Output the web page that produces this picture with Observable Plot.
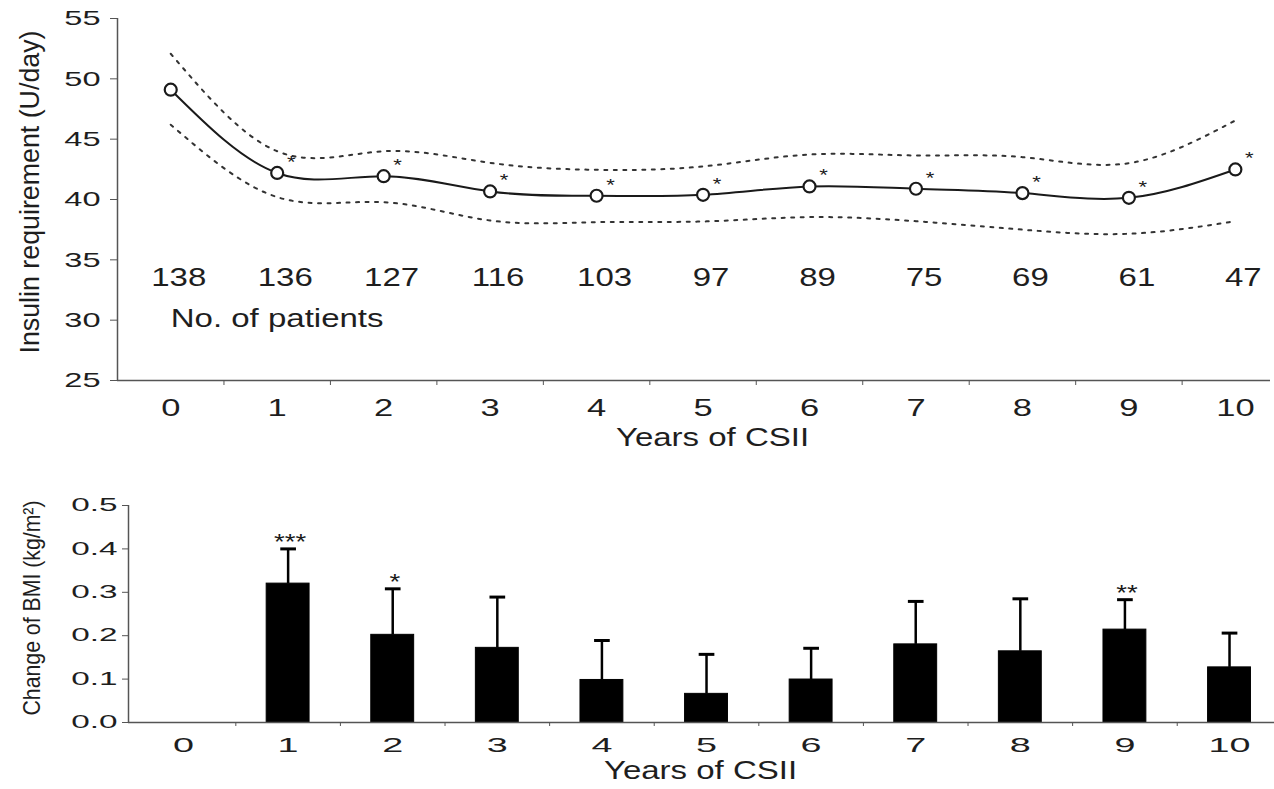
<!DOCTYPE html>
<html><head><meta charset="utf-8">
<script src="https://cdn.jsdelivr.net/npm/d3@7"></script>
<script src="https://cdn.jsdelivr.net/npm/@observablehq/plot@0.6"></script>
<style>
body{margin:0;background:#fff}
#wrap{position:relative;width:1274px;height:789px;background:#fff}
#wrap svg{position:absolute;left:0}
</style>
</head><body><div id="wrap"></div>
<script>
// ---- data ----
const years = [0,1,2,3,4,5,6,7,8,9,10];
const insulin      = [49.1, 42.2, 41.93, 40.67, 40.31, 40.39, 41.08, 40.89, 40.53, 40.14, 42.49];
const insulinUpper = [52.08, 44.0, 44.0, 43.04, 42.46, 42.74, 43.73, 43.65, 43.51, 43.01, 46.55];
const insulinLower = [46.2, 40.2, 39.78, 38.26, 38.12, 38.18, 38.54, 38.2, 37.5, 37.16, 38.2];
const patients     = [138,136,127,116,103,97,89,75,69,61,47];
const insulinSig   = ["","*","*","*","*","*","*","*","*","*","*"];
const insulinTicks = [25,30,35,40,45,50,55];

const bmiChange = [0, 0.32, 0.202, 0.172, 0.098, 0.066, 0.099, 0.18, 0.164, 0.214, 0.127];
const bmiUpper  = [0, 0.40, 0.308, 0.289, 0.189, 0.157, 0.171, 0.279, 0.285, 0.283, 0.206];
const bmiSig    = ["","***","*","","","","","","","**",""];
const bmiTicks  = [0,0.1,0.2,0.3,0.4,0.5];

const halfTicks = years.slice(0,10).map(y => y + 0.5);

const insData = years.map((y,i)=>({year:y, mean:insulin[i], upper:insulinUpper[i], lower:insulinLower[i], n:patients[i], sig:insulinSig[i]}));
const bmiData = years.map((y,i)=>({year:y, change:bmiChange[i], upper:bmiUpper[i], sig:bmiSig[i]}));

const W = 1274;
const font = "'Liberation Sans', Arial, Helvetica, sans-serif";
const axisGray = "#555";
const ink = "#1a1a1a";

const topPlot = Plot.plot({
  width: W, height: 465,
  marginLeft: 117, marginRight: 4, marginTop: 18, marginBottom: 85,
  x: {domain: [-0.5, 10.33]},
  y: {domain: [25, 55]},
  style: {fontFamily: font, color: "#1e1e1e", background: "white"},
  marks: [
    Plot.ruleY([25], {stroke: axisGray, strokeWidth: 1.5}),
    Plot.ruleX([-0.5], {stroke: axisGray, strokeWidth: 1.5}),
    Plot.axisY({ticks: insulinTicks, tickSize: 7, tickPadding: 10, fontSize: 21, label: null, stroke: axisGray}),
    Plot.axisX({ticks: years, tickSize: 0, tickPadding: 19, fontSize: 23, label: null}),
    Plot.axisX({ticks: halfTicks, tickSize: 5, tickFormat: () => "", label: null, stroke: axisGray}),
    Plot.line(insData, {x: "year", y: "upper", curve: "natural", stroke: "#333", strokeWidth: 2, strokeDasharray: "3,6.5"}),
    Plot.line(insData, {x: "year", y: "lower", curve: "natural", stroke: "#333", strokeWidth: 2, strokeDasharray: "3,6.5"}),
    Plot.line(insData, {x: "year", y: "mean", curve: "natural", stroke: ink, strokeWidth: 2}),
    Plot.dot(insData, {x: "year", y: "mean", r: 6, stroke: ink, strokeWidth: 2.2, fill: "white"}),
    Plot.text(insData, {x: "year", y: "mean", text: "sig", dx: 14, dy: -10.5, fontSize: 17, fill: ink}),
    Plot.text(insData, {x: "year", y: () => 33.46, text: d => String(d.n), dx: 8, fontSize: 25, fill: "#1e1e1e"}),
    Plot.text(["No. of patients"], {x: 0, y: 30.1, textAnchor: "start", fontSize: 25, fill: "#1e1e1e"}),
    Plot.text(["Years of CSII"], {frameAnchor: "bottom", dx: 18.5, dy: 65, fontSize: 25, fill: "#1e1e1e"}),
    Plot.text(["Insulin requirement (U/day)"], {frameAnchor: "left", textAnchor: "middle", lineAnchor: "middle", rotate: -90, dx: -87, dy: -7.5, fontSize: 27, fill: "#1e1e1e"})
  ]
});

const bottomPlot = Plot.plot({
  width: W, height: 324,
  marginLeft: 128, marginRight: 0, marginTop: 40, marginBottom: 67,
  x: {domain: [-0.526, 10.43]},
  y: {domain: [0, 0.5]},
  style: {fontFamily: font, color: "#1e1e1e", background: "white"},
  marks: [
    Plot.rect(bmiData, {x1: d => d.year - 0.205, x2: d => d.year + 0.205, y1: 0, y2: "change", fill: "black", stroke: "black", strokeWidth: 1}),
    Plot.ruleX(bmiData.filter(d => d.upper > d.change), {x: "year", y1: "change", y2: "upper", stroke: "black", strokeWidth: 2.5}),
    Plot.link(bmiData.filter(d => d.upper > d.change), {x1: d => d.year - 0.075, x2: d => d.year + 0.075, y1: "upper", y2: "upper", stroke: "black", strokeWidth: 3}),
    Plot.text(bmiData, {x: "year", y: "upper", text: "sig", dx: 2, dy: -6.5, fontSize: 22, fill: ink}),
    Plot.ruleY([0], {stroke: axisGray, strokeWidth: 1.5}),
    Plot.ruleX([-0.526], {stroke: axisGray, strokeWidth: 1.5}),
    Plot.axisY({ticks: bmiTicks, tickFormat: d3.format(".1f"), tickSize: 6, tickPadding: 5, fontSize: 18, label: null, stroke: axisGray}),
    Plot.axisX({ticks: years, tickSize: 0, tickPadding: 14.5, fontSize: 21, label: null}),
    Plot.axisX({ticks: halfTicks, tickSize: 4, tickFormat: () => "", label: null, stroke: axisGray}),
    Plot.text(["Years of CSII"], {frameAnchor: "bottom", dx: -1, dy: 56, fontSize: 25, fill: "#1e1e1e"}),
    Plot.text(["Change of BMI (kg/m²)"], {frameAnchor: "left", textAnchor: "middle", lineAnchor: "middle", rotate: -90, dx: -96, dy: -6, fontSize: 24, fill: "#1e1e1e"})
  ]
});

const wrap = document.getElementById("wrap");
topPlot.style.top = "0px";
bottomPlot.style.top = "465px";
wrap.appendChild(topPlot);
wrap.appendChild(bottomPlot);

// widen horizontal text to match the reference's wide lettering;
// rotated labels get a fixed length along the text direction
function stretch(svg, factors, rotatedLength) {
  svg.querySelectorAll("text").forEach(t => {
    if (!t.textContent) return;
    const tr = t.getAttribute("transform") || "";
    if (tr.includes("rotate")) {
      t.setAttribute("textLength", rotatedLength);
      t.setAttribute("lengthAdjust", "spacingAndGlyphs");
      return;
    }
    const g = t.closest("[font-size]");
    const fs = g ? +g.getAttribute("font-size") : NaN;
    const f = factors[fs];
    if (!f) return;
    const len = t.getComputedTextLength();
    t.setAttribute("textLength", (len * f).toFixed(1));
    t.setAttribute("lengthAdjust", "spacingAndGlyphs");
  });
}
stretch(topPlot, {21: 1.55, 23: 1.5, 25: 1.32, 17: 1.3}, 323);
stretch(bottomPlot, {18: 1.85, 21: 1.8, 25: 1.32, 22: 1.25}, 215);
</script>
</body></html>
